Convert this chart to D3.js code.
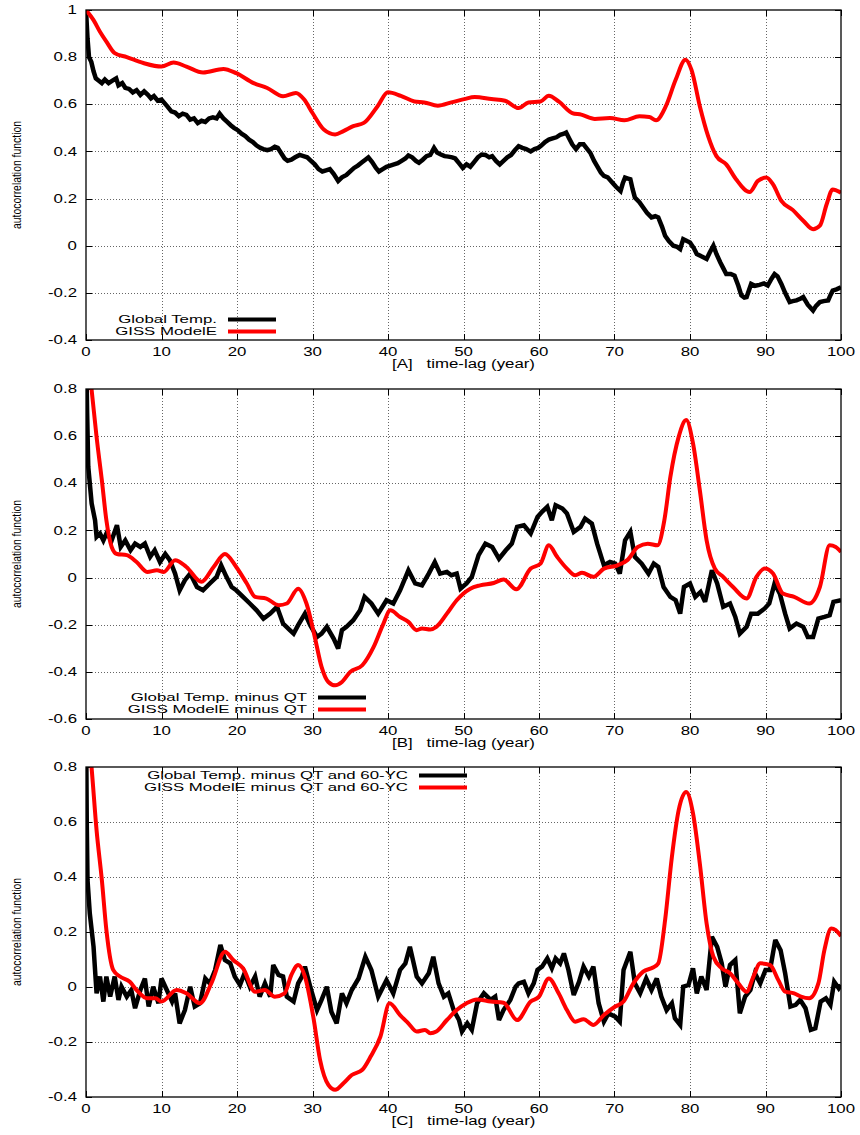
<!DOCTYPE html>
<html>
<head>
<meta charset="utf-8">
<script src="https://cdn.jsdelivr.net/npm/d3@7"></script>
<style>
  html, body { margin: 0; padding: 0; background: #fff; }
  svg text { font-family: "Liberation Sans", Arial, Helvetica, sans-serif; }
</style>
</head>
<body>
<svg id="chart" width="860" height="1135"></svg>
<script>
// ---------------- DATA ----------------
const xTicks = [0, 10, 20, 30, 40, 50, 60, 70, 80, 90, 100];
const yTicksA = [-0.4, -0.2, 0, 0.2, 0.4, 0.6, 0.8, 1];
const yTicksB = [-0.6, -0.4, -0.2, 0, 0.2, 0.4, 0.6, 0.8];
const yTicksC = [-0.4, -0.2, 0, 0.2, 0.4, 0.6, 0.8];

const axisLabels = ["[A]   time-lag (year)", "[B]   time-lag (year)", "[C]   time-lag (year)"];
const yTitle = "autocorrelation function";
const legendA = ["Global Temp.", "GISS ModelE"];
const legendB = ["Global Temp. minus QT", "GISS ModelE minus QT"];
const legendC = ["Global Temp. minus QT and 60-YC", "GISS ModelE minus QT and 60-YC"];

// [lag (year), autocorrelation]
const tempA = [[0,1.0],[0.2,0.88],[0.4,0.80],[0.7,0.78],[1.0,0.74],[1.3,0.71],[1.7,0.70],[2.1,0.69],[2.5,0.705],[3.0,0.69],[3.5,0.70],[4.0,0.71],[4.3,0.68],[4.8,0.69],[5.2,0.67],[5.7,0.665],[6.2,0.65],[6.7,0.66],[7.2,0.64],[7.7,0.655],[8.2,0.64],[8.6,0.625],[9.0,0.635],[9.5,0.615],[10.0,0.62],[10.4,0.605],[10.8,0.59],[11.3,0.57],[11.8,0.565],[12.3,0.55],[12.8,0.56],[13.3,0.555],[13.8,0.535],[14.3,0.54],[14.8,0.52],[15.3,0.53],[15.8,0.525],[16.3,0.54],[16.8,0.545],[17.3,0.54],[17.7,0.56],[18.2,0.54],[18.7,0.525],[19.2,0.51],[19.6,0.50],[20.1,0.49],[20.6,0.475],[21.1,0.465],[21.6,0.45],[22.1,0.44],[22.6,0.425],[23.1,0.415],[23.5,0.41],[24.0,0.405],[24.5,0.41],[25.0,0.42],[25.4,0.415],[25.9,0.39],[26.3,0.37],[26.7,0.36],[27.2,0.365],[27.7,0.375],[28.3,0.385],[28.8,0.38],[29.3,0.375],[29.8,0.36],[30.3,0.345],[30.8,0.325],[31.3,0.315],[31.8,0.32],[32.3,0.325],[32.8,0.305],[33.4,0.275],[33.9,0.29],[34.5,0.30],[35.0,0.315],[35.5,0.33],[36.0,0.34],[36.6,0.355],[37.0,0.365],[37.4,0.375],[37.9,0.355],[38.4,0.33],[38.8,0.315],[39.3,0.325],[39.8,0.335],[40.3,0.34],[40.8,0.345],[41.3,0.35],[41.8,0.36],[42.3,0.37],[42.7,0.383],[43.2,0.375],[43.7,0.36],[44.1,0.352],[44.6,0.365],[45.1,0.38],[45.6,0.385],[46.1,0.415],[46.5,0.395],[47.0,0.387],[47.5,0.38],[48.0,0.378],[48.5,0.375],[48.9,0.37],[49.4,0.35],[49.9,0.33],[50.4,0.345],[50.9,0.335],[51.4,0.355],[51.9,0.375],[52.4,0.387],[52.9,0.385],[53.4,0.375],[53.8,0.38],[54.3,0.36],[54.8,0.345],[55.3,0.36],[55.8,0.375],[56.3,0.385],[56.8,0.405],[57.3,0.422],[57.8,0.415],[58.3,0.41],[58.9,0.40],[59.4,0.41],[59.9,0.415],[60.3,0.425],[60.8,0.44],[61.3,0.45],[61.8,0.455],[62.3,0.46],[62.8,0.47],[63.3,0.475],[63.6,0.48],[64.0,0.455],[64.4,0.43],[64.9,0.41],[65.4,0.43],[65.9,0.43],[66.4,0.41],[66.8,0.394],[67.3,0.36],[67.7,0.338],[68.2,0.31],[68.6,0.296],[69.1,0.29],[69.7,0.268],[70.2,0.25],[70.8,0.232],[71.1,0.265],[71.4,0.289],[71.8,0.285],[72.1,0.282],[72.4,0.24],[72.7,0.204],[73.3,0.185],[73.8,0.162],[74.3,0.14],[74.9,0.12],[75.4,0.125],[75.8,0.12],[76.3,0.08],[76.7,0.042],[77.2,0.02],[77.8,0.0],[78.3,-0.005],[78.7,-0.014],[79.1,0.028],[79.6,0.02],[80.0,0.014],[80.5,-0.01],[80.9,-0.035],[81.5,-0.045],[82.2,-0.056],[82.6,-0.03],[83.1,0.0],[83.5,-0.035],[84.0,-0.07],[84.4,-0.095],[84.8,-0.12],[85.4,-0.12],[85.9,-0.127],[86.4,-0.17],[86.8,-0.211],[87.2,-0.22],[87.5,-0.218],[88.1,-0.162],[88.6,-0.17],[89.2,-0.166],[89.8,-0.16],[90.3,-0.169],[90.8,-0.14],[91.2,-0.12],[91.6,-0.13],[92.1,-0.162],[92.6,-0.2],[93.2,-0.239],[93.6,-0.235],[94.1,-0.232],[94.6,-0.225],[95.0,-0.218],[95.6,-0.25],[96.3,-0.275],[96.7,-0.255],[97.2,-0.239],[97.7,-0.235],[98.3,-0.232],[98.6,-0.21],[98.9,-0.19],[99.4,-0.185],[100,-0.176]];

const modelA = [[0,1.0],[1,0.957],[1.85,0.908],[2.7,0.866],[3.8,0.817],[5.4,0.80],[7.6,0.775],[10,0.76],[11.6,0.777],[13.3,0.76],[15.5,0.735],[18.2,0.75],[19.9,0.732],[22.2,0.69],[24,0.669],[26.1,0.634],[27.8,0.648],[28.9,0.62],[30,0.563],[31.5,0.493],[33,0.472],[34.1,0.486],[35.4,0.507],[36.8,0.521],[38.6,0.591],[40,0.651],[41.7,0.636],[43.5,0.612],[44.8,0.608],[46.6,0.594],[48.4,0.608],[50.1,0.622],[51.5,0.631],[53.7,0.622],[55.5,0.615],[57.3,0.584],[58.6,0.608],[60.2,0.612],[61.3,0.636],[62.6,0.612],[64.4,0.563],[65.6,0.556],[67.4,0.538],[69.4,0.542],[71.3,0.532],[73.3,0.549],[74.6,0.546],[75.5,0.532],[76.8,0.592],[78.1,0.704],[79.4,0.789],[80.2,0.746],[81.3,0.592],[82.4,0.465],[83.5,0.38],[84.8,0.345],[86.1,0.282],[87.9,0.228],[89,0.275],[90.1,0.289],[91,0.26],[92.1,0.19],[93.6,0.152],[95,0.106],[96.3,0.07],[97.2,0.085],[98.1,0.176],[98.9,0.239],[100,0.225]];

const tempB = [[0,1.0],[0.15,0.7],[0.3,0.47],[0.75,0.314],[1.2,0.243],[1.4,0.173],[1.85,0.187],[2.3,0.158],[2.7,0.187],[3.4,0.158],[4.1,0.222],[4.6,0.13],[5.2,0.158],[5.9,0.116],[6.5,0.144],[7.2,0.13],[7.8,0.144],[8.5,0.088],[9.1,0.116],[9.8,0.066],[10.5,0.10],[11.1,0.074],[11.8,0.017],[12.4,-0.054],[13.1,-0.011],[13.8,0.017],[14.7,-0.04],[15.5,-0.054],[16.4,-0.025],[17.3,0.003],[17.9,0.052],[18.6,0.003],[19.3,-0.04],[19.9,-0.054],[20.8,-0.082],[21.7,-0.11],[22.6,-0.139],[23.5,-0.174],[24.4,-0.153],[25.3,-0.124],[26.1,-0.195],[27.0,-0.223],[27.5,-0.238],[28.1,-0.202],[29.0,-0.153],[29.7,-0.202],[30.6,-0.252],[31.2,-0.238],[31.9,-0.209],[32.8,-0.259],[33.4,-0.301],[33.9,-0.223],[34.5,-0.209],[35.4,-0.181],[36.3,-0.139],[36.9,-0.082],[37.8,-0.11],[38.7,-0.153],[39.8,-0.096],[40.7,-0.11],[41.6,-0.054],[42.7,0.031],[43.6,-0.025],[44.5,-0.033],[45.4,0.017],[46.2,0.066],[46.9,0.017],[47.8,0.024],[48.4,0.01],[49.1,0.017],[49.6,-0.047],[50.4,-0.025],[51.1,0.003],[52.0,0.095],[52.9,0.144],[53.8,0.13],[54.7,0.08],[55.6,0.116],[56.4,0.144],[57.1,0.215],[58.0,0.222],[58.9,0.187],[59.8,0.257],[60.4,0.279],[61.1,0.30],[61.7,0.243],[62.2,0.307],[63.1,0.293],[63.7,0.272],[64.6,0.194],[65.5,0.215],[66.1,0.25],[67.0,0.229],[67.7,0.144],[68.6,0.052],[69.4,0.066],[70.1,0.059],[70.7,0.017],[71.4,0.158],[72.1,0.194],[72.7,0.088],[73.6,0.059],[74.5,0.017],[75.2,0.059],[75.8,0.045],[76.5,-0.04],[77.4,-0.082],[78.1,-0.096],[78.7,-0.153],[79.2,-0.04],[80.0,-0.025],[80.7,-0.082],[81.4,-0.061],[82.0,-0.103],[82.9,0.031],[83.6,-0.025],[84.4,-0.124],[85.3,-0.11],[86.0,-0.167],[86.6,-0.238],[87.5,-0.209],[88.1,-0.153],[89.0,-0.153],[89.9,-0.131],[90.5,-0.11],[91.2,-0.025],[91.9,-0.068],[92.6,-0.153],[93.2,-0.216],[94.1,-0.195],[95.0,-0.209],[95.6,-0.252],[96.3,-0.252],[97.0,-0.174],[97.8,-0.167],[98.5,-0.16],[99.0,-0.103],[100,-0.096]];

const modelB = [[0,1.0],[0.7,0.81],[1.4,0.597],[2.1,0.413],[2.7,0.243],[3.4,0.13],[4.1,0.10],[5.4,0.095],[6.7,0.066],[8.1,0.024],[9.4,0.031],[10.3,0.024],[11.8,0.074],[13.3,0.045],[15.3,-0.018],[16.9,0.045],[18.4,0.10],[19.9,0.045],[21.3,-0.025],[22.4,-0.082],[23.9,-0.089],[25.5,-0.117],[26.6,-0.11],[28.1,-0.047],[29.2,-0.11],[30.3,-0.252],[31.2,-0.379],[32.1,-0.443],[33,-0.457],[33.9,-0.443],[35,-0.40],[36.6,-0.372],[38.1,-0.294],[39.4,-0.195],[40.3,-0.139],[41.6,-0.167],[42.7,-0.188],[43.8,-0.223],[44.5,-0.216],[45.6,-0.22],[46.4,-0.209],[47.8,-0.153],[49.1,-0.096],[50.9,-0.047],[52.2,-0.033],[54,-0.023],[55.3,-0.008],[57,-0.05],[58.9,0.038],[60.2,0.059],[61.3,0.137],[62.4,0.088],[63.7,0.038],[64.8,0.01],[65.7,0.02],[67.2,0.003],[68.6,0.038],[70.4,0.052],[71.7,0.074],[73.1,0.13],[74.4,0.144],[75.7,0.137],[76.6,0.243],[77.4,0.427],[78.5,0.597],[79.5,0.668],[80.4,0.569],[81.3,0.371],[82.2,0.158],[83.3,0.038],[84.4,0.003],[85.7,-0.04],[87.5,-0.089],[88.8,0.003],[89.9,0.038],[91,0.017],[92.3,-0.068],[93.8,-0.082],[95.8,-0.11],[97.2,-0.04],[98.5,0.137],[99.3,0.13],[100,0.109]];

const tempC = [[0,1.0],[0.1,0.6],[0.2,0.389],[0.5,0.268],[1.0,0.146],[1.4,-0.023],[1.85,0.038],[2.3,-0.053],[2.7,0.038],[3.2,-0.035],[3.8,0.038],[4.3,-0.047],[4.7,0.001],[5.4,-0.035],[6.0,-0.011],[6.5,-0.077],[7.2,-0.011],[7.8,0.031],[8.3,-0.071],[8.9,0.001],[9.6,-0.059],[10.0,0.031],[10.7,-0.011],[11.4,-0.053],[11.8,-0.023],[12.4,-0.132],[13.1,-0.084],[13.8,0.001],[14.4,-0.071],[15.1,-0.059],[15.8,0.031],[16.4,0.013],[17.1,0.062],[17.8,0.153],[18.4,0.098],[19.1,0.086],[19.7,0.038],[20.4,0.007],[21.0,0.05],[21.7,0.001],[22.4,0.038],[23.0,-0.035],[23.7,0.013],[24.4,-0.035],[24.8,0.08],[25.5,0.044],[26.1,0.038],[26.6,-0.035],[27.5,-0.053],[28.1,0.013],[28.6,0.038],[29.0,0.074],[29.7,0.001],[30.6,-0.084],[31.2,-0.047],[31.9,0.001],[32.5,-0.09],[33.2,-0.132],[33.9,-0.023],[34.5,-0.059],[35.2,-0.011],[36.1,0.031],[37.0,0.11],[37.8,0.062],[38.7,-0.035],[39.8,0.025],[40.7,-0.023],[41.6,0.062],[42.3,0.086],[42.9,0.146],[43.8,0.038],[44.5,0.013],[45.4,0.05],[46.0,0.11],[46.7,0.013],[47.4,-0.035],[48.0,-0.023],[48.7,-0.084],[49.4,-0.12],[49.8,-0.162],[50.5,-0.132],[51.1,-0.156],[51.8,-0.059],[52.7,-0.023],[53.6,-0.047],[54.2,-0.035],[54.7,-0.12],[55.3,-0.084],[56.2,-0.047],[56.9,0.001],[57.3,0.013],[58.0,0.019],[58.6,-0.023],[59.3,0.013],[59.8,0.062],[60.4,0.074],[61.1,0.104],[61.7,0.068],[62.2,0.104],[62.8,0.086],[63.3,0.122],[63.9,0.062],[64.6,-0.029],[65.3,0.019],[65.9,0.074],[66.6,0.038],[67.2,0.074],[67.9,-0.059],[68.6,-0.126],[69.2,-0.096],[70.1,-0.108],[70.7,-0.126],[71.2,0.062],[72.1,0.128],[72.7,0.013],[73.4,-0.023],[74.2,0.031],[74.9,-0.011],[75.6,0.031],[76.2,-0.035],[76.9,-0.084],[77.6,-0.059],[78.0,-0.114],[78.7,-0.138],[79.1,0.001],[79.8,0.007],[80.4,0.068],[80.9,-0.023],[81.5,0.038],[82.2,-0.011],[82.9,0.183],[83.6,0.146],[84.2,0.086],[84.7,0.001],[85.3,0.08],[86.0,0.098],[86.6,-0.096],[87.3,-0.035],[88.0,-0.011],[88.6,0.05],[89.3,0.013],[90.0,0.062],[90.6,0.062],[91.3,0.171],[92.0,0.134],[92.6,0.05],[93.3,-0.071],[94.0,-0.065],[94.6,-0.047],[95.3,-0.077],[96.0,-0.156],[96.6,-0.15],[97.3,-0.053],[98.0,-0.041],[98.6,-0.065],[99.1,0.019],[99.7,-0.005],[100,0.007]];

const modelC = [[0,1.0],[0.7,0.81],[1.4,0.57],[2.1,0.389],[2.7,0.207],[3.6,0.062],[4.5,0.038],[5.8,0.019],[6.7,-0.011],[8.1,-0.041],[9.2,-0.041],[10.0,-0.053],[12.0,-0.011],[13.3,-0.023],[15.1,-0.059],[16.6,0.013],[18.4,0.128],[19.5,0.098],[20.8,0.068],[22.4,-0.017],[23.7,-0.011],[25.0,-0.035],[26.3,-0.023],[27.2,0.044],[28.1,0.08],[29.0,0.038],[30.1,-0.108],[31.0,-0.265],[32.1,-0.356],[33.0,-0.374],[34.1,-0.35],[35.2,-0.32],[36.6,-0.301],[37.7,-0.253],[39.0,-0.18],[40.2,-0.059],[41.6,-0.102],[42.7,-0.132],[43.8,-0.162],[44.9,-0.156],[45.6,-0.168],[46.4,-0.162],[47.8,-0.12],[49.1,-0.084],[50.4,-0.059],[51.8,-0.045],[53.6,-0.053],[55.3,-0.057],[57.1,-0.12],[58.9,-0.053],[60.0,-0.035],[61.3,0.031],[62.6,-0.023],[63.7,-0.084],[64.8,-0.126],[65.9,-0.117],[67.2,-0.138],[68.6,-0.102],[70.1,-0.071],[71.2,-0.053],[72.5,0.013],[73.8,0.056],[75.1,0.071],[75.8,0.086],[76.7,0.243],[77.6,0.473],[78.5,0.643],[79.5,0.709],[80.4,0.631],[81.3,0.449],[82.2,0.231],[83.1,0.11],[84.2,0.068],[85.3,0.05],[86.4,0.013],[87.5,-0.017],[88.4,0.038],[89.3,0.086],[90.6,0.08],[91.7,0.025],[92.6,-0.017],[93.8,-0.023],[94.7,-0.035],[95.8,-0.041],[97.0,0.013],[97.8,0.134],[98.7,0.213],[99.3,0.207],[100,0.185]];

// ---------------- LAYOUT ----------------
const LEFT = 86, RIGHT = 841;
const panels = [
  { top: 10,  bottom: 340,  yTicks: yTicksA, black: tempA, red: modelA, legend: legendA, label: axisLabels[0], legX: 217, legY: 320 },
  { top: 389, bottom: 719,  yTicks: yTicksB, black: tempB, red: modelB, legend: legendB, label: axisLabels[1], legX: 307, legY: 698 },
  { top: 767, bottom: 1097, yTicks: yTicksC, black: tempC, red: modelC, legend: legendC, label: axisLabels[2], legX: 408, legY: 776 }
];

const svg = d3.select("#chart");
const fmt = d => String(+d.toFixed(1));
const FONT = 12;
const LEG_FONT = 10.5;

function widen(factor) {
  return sel => sel.each(function () {
    const L = this.getComputedTextLength();
    d3.select(this).attr("textLength", L * factor).attr("lengthAdjust", "spacingAndGlyphs");
  });
}
const wide = widen(1.4);
const wideLegend = widen(1.4 * FONT / LEG_FONT);

panels.forEach((p, i) => {
  const x = d3.scaleLinear().domain([0, 100]).range([LEFT, RIGHT]);
  const y = d3.scaleLinear().domain(d3.extent(p.yTicks)).range([p.bottom, p.top]);
  const g = svg.append("g");

  const clipId = "clip" + i;
  svg.append("clipPath").attr("id", clipId).append("rect")
    .attr("x", LEFT).attr("y", p.top).attr("width", RIGHT - LEFT).attr("height", p.bottom - p.top);

  // grid
  const grid = g.append("g").attr("stroke", "#666").attr("stroke-width", 1).attr("stroke-dasharray", "1,2");
  grid.selectAll(".gx").data(xTicks.slice(1, -1)).join("line")
    .attr("x1", d => Math.round(x(d)) + 0.5).attr("x2", d => Math.round(x(d)) + 0.5)
    .attr("y1", p.top).attr("y2", p.bottom);
  grid.selectAll(".gy").data(p.yTicks.slice(1, -1)).join("line")
    .attr("y1", d => Math.round(y(d)) + 0.5).attr("y2", d => Math.round(y(d)) + 0.5)
    .attr("x1", LEFT).attr("x2", RIGHT);

  // ticks (inward, mirrored)
  const tk = g.append("g").attr("stroke", "#000").attr("stroke-width", 1);
  xTicks.forEach(t => {
    const xx = Math.round(x(t)) + 0.5;
    tk.append("line").attr("x1", xx).attr("x2", xx).attr("y1", p.bottom).attr("y2", p.bottom - 6);
    tk.append("line").attr("x1", xx).attr("x2", xx).attr("y1", p.top).attr("y2", p.top + 6);
  });
  p.yTicks.forEach(t => {
    const yy = Math.round(y(t)) + 0.5;
    tk.append("line").attr("x1", LEFT).attr("x2", LEFT + 6).attr("y1", yy).attr("y2", yy);
    tk.append("line").attr("x1", RIGHT).attr("x2", RIGHT - 6).attr("y1", yy).attr("y2", yy);
  });

  // tick labels
  g.append("g").selectAll("text").data(xTicks).join("text")
    .attr("x", d => x(d)).attr("y", p.bottom + 16)
    .attr("text-anchor", "middle").attr("font-size", FONT)
    .text(d => d).call(wide);
  g.append("g").selectAll("text").data(p.yTicks).join("text")
    .attr("x", 77).attr("y", d => y(d)).attr("dy", "0.35em")
    .attr("text-anchor", "end").attr("font-size", FONT)
    .text(fmt).call(wide);

  // axis titles
  g.append("text").attr("x", (LEFT + RIGHT) / 2).attr("y", p.bottom + 28)
    .attr("text-anchor", "middle").attr("font-size", FONT)
    .attr("xml:space", "preserve").style("white-space", "pre")
    .text(p.label).call(wide);
  const cy = (p.top + p.bottom) / 2;
  g.append("text").attr("transform", `translate(21,${cy}) rotate(-90)`)
    .attr("text-anchor", "middle").attr("font-size", 13)
    .attr("textLength", 108).attr("lengthAdjust", "spacingAndGlyphs")
    .text(yTitle);

  // series
  const lineLin = d3.line().x(d => x(d[0])).y(d => y(d[1])).curve(d3.curveLinear);
  const lineSmooth = d3.line().x(d => x(d[0])).y(d => y(d[1])).curve(d3.curveMonotoneX);
  const plot = g.append("g").attr("clip-path", `url(#${clipId})`);
  plot.append("path").datum(p.black).attr("d", lineLin)
    .attr("fill", "none").attr("stroke", "#000").attr("stroke-width", 4.5).attr("stroke-linejoin", "miter").attr("stroke-miterlimit", 3);
  plot.append("path").datum(p.red).attr("d", lineSmooth)
    .attr("fill", "none").attr("stroke", "#ff0000").attr("stroke-width", 4).attr("stroke-linejoin", "round");

  // border
  g.append("rect").attr("x", LEFT).attr("y", p.top).attr("width", RIGHT - LEFT).attr("height", p.bottom - p.top)
    .attr("fill", "none").attr("stroke", "#000").attr("stroke-width", 1.3);

  // legend
  const colors = ["#000", "#ff0000"];
  p.legend.forEach((txt, k) => {
    const ly = p.legY - 0.5 + k * 12;
    g.append("text").attr("x", p.legX).attr("y", ly).attr("dy", "0.35em")
      .attr("text-anchor", "end").attr("font-size", LEG_FONT)
      .text(txt).call(wideLegend);
    g.append("line").attr("x1", p.legX + 11).attr("x2", p.legX + 59).attr("y1", ly).attr("y2", ly)
      .attr("stroke", colors[k]).attr("stroke-width", 4);
  });
});
</script>
</body>
</html>
